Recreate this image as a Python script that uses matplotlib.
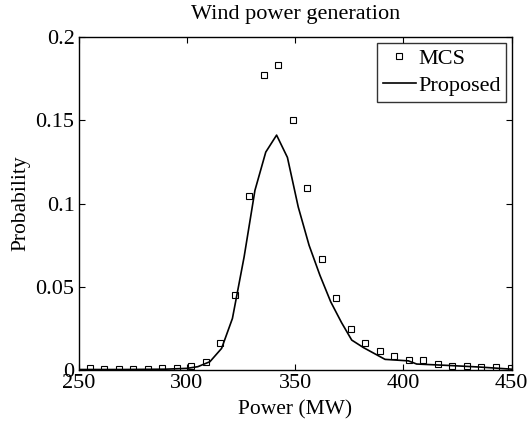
import numpy as np
import matplotlib
matplotlib.use("Agg")
import matplotlib.pyplot as plt
from matplotlib.ticker import FuncFormatter

# MCS results (squares)
mcs_power = [255.0, 261.7, 268.4, 275.1, 281.8, 288.5, 295.2, 301.9, 308.6, 315.3,
             322.0, 328.7, 335.4, 342.1, 348.8, 355.5, 362.2, 368.9, 375.6, 382.3,
             389.0, 395.7, 402.4, 409.1, 415.8, 422.5, 429.2, 435.9, 442.6, 449.5]
mcs_prob = [0.0010, 0.0006, 0.0006, 0.0006, 0.0009, 0.0010, 0.0013, 0.0022, 0.0046, 0.0162,
            0.0449, 0.1048, 0.1775, 0.1835, 0.1500, 0.1093, 0.0667, 0.0430, 0.0246, 0.0160,
            0.0112, 0.0084, 0.0058, 0.0058, 0.0038, 0.0027, 0.0026, 0.0020, 0.0016, 0.0012]

# proposed method (solid line)
prop_power = [250, 260, 270, 280, 290, 300, 305, 310.6, 316, 321, 326.4, 331.4, 336.4,
              341.4, 346.4, 351.4, 356.4, 361.4, 366.4, 371.4, 376.1, 381.5, 391.5,
              402.3, 406.1, 420, 435, 450]
prop_prob = [0.0003, 0.0003, 0.0003, 0.0004, 0.0005, 0.0010, 0.0020, 0.0050, 0.0130, 0.0310,
             0.0680, 0.1080, 0.1310, 0.1412, 0.1278, 0.0980, 0.0750, 0.0570, 0.0410, 0.0285,
             0.0180, 0.0135, 0.0064, 0.0055, 0.0036, 0.0028, 0.0018, 0.0005]

plt.rcParams['font.family'] = ['Liberation Serif', 'DejaVu Serif']
plt.rcParams['mathtext.fontset'] = 'stix'

fig = plt.figure(figsize=(5.29, 4.21), dpi=100)
ax = fig.add_axes([0.1488, 0.1211, 0.8185, 0.7903])

ax.plot(mcs_power, mcs_prob, 's', markersize=5, markerfacecolor='none',
        markeredgecolor='black', markeredgewidth=0.8, label='MCS')
ax.plot(prop_power, prop_prob, '-', color='black', linewidth=1.2, label='Proposed')

ax.set_xlim(250, 450)
ax.set_ylim(0, 0.2)
ax.set_xticks([250, 300, 350, 400, 450])
ax.set_yticks([0, 0.05, 0.1, 0.15, 0.2])
ax.yaxis.set_major_formatter(FuncFormatter(lambda v, p: '%g' % round(v, 4)))
ax.tick_params(direction='in', length=4, width=0.8, top=True, right=True,
               labelsize=16, pad=3)
for s in ax.spines.values():
    s.set_linewidth(1.0)

ax.set_title('Wind power generation', fontsize=16, pad=13)
ax.set_xlabel('Power (MW)', fontsize=15.5, labelpad=5)
ax.set_ylabel('Probability', fontsize=15.5, labelpad=4)

leg = ax.legend(loc='upper right', fontsize=16, frameon=True, fancybox=False,
                borderpad=0.25, handlelength=1.5, handletextpad=0.1,
                labelspacing=0.3, borderaxespad=0.25, numpoints=1)
leg.get_frame().set_edgecolor('black')
leg.get_frame().set_linewidth(1.0)

fig.savefig('out.png', dpi=100)
